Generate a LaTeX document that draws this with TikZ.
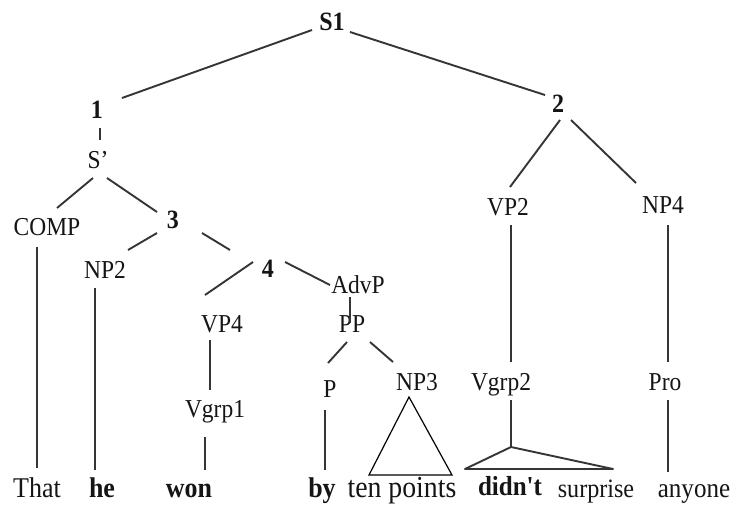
\documentclass[tikz,border=0pt]{standalone}
\usepackage{fontspec}
\setmainfont{Liberation Serif}
\newfontfamily\tfont[FakeStretch=0.91,Ligatures=TeXOff]{Liberation Serif}
\usetikzlibrary{calc}
\definecolor{linec}{HTML}{353535}
\definecolor{txt}{HTML}{151515}
\begin{document}
\begin{tikzpicture}[x=1pt,y=-1pt,
  lab/.style={anchor=base,inner sep=0pt,text=txt,font=\tfont\fontsize{25.8}{28}\selectfont},
  blab/.style={anchor=base,inner sep=0pt,text=txt,font=\tfont\bfseries\fontsize{26.4}{28}\selectfont},
  word/.style={anchor=base,inner sep=0pt,text=txt,font=\tfont\fontsize{28.6}{30}\selectfont},
  bword/.style={anchor=base,inner sep=0pt,text=txt,font=\tfont\bfseries\fontsize{28.5}{30}\selectfont},
  edge/.style={draw=linec,line width=1.9pt},
  thin/.style={draw=black,line width=1.2pt,line join=miter}]
\useasboundingbox[fill=white] (0,0) rectangle (736,504);
% labels
\node[blab] (S1) at (332,30) {S1};
\node[blab] (n1) at (97,118) {1};
\node[blab] (n2) at (558,112) {2};
\node[lab] (Sp) at (98,168) {S’};
\node[lab] (COMP) at (47,235) {COMP};
\node[blab] (n3) at (173,228) {3};
\node[lab] (NP2) at (105,278) {NP2};
\node[blab] (n4) at (268,277) {4};
\node[lab] (AdvP) at (358,293) {AdvP};
\node[lab] (VP4) at (222,332) {VP4};
\node[lab] (PP) at (352,332) {PP};
\node[lab] (P) at (330,397) {P};
\node[lab] (NP3) at (417,390) {NP3};
\node[lab] (Vgrp1) at (215,417) {Vgrp1};
\node[lab] (VP2) at (508,215) {VP2};
\node[lab] (NP4) at (663,213) {NP4};
\node[lab] (Vgrp2) at (501,390) {Vgrp2};
\node[lab] (Pro) at (665,390) {Pro};
% words
\node[word] (That) at (37,497) {That};
\node[bword] (he) at (102,497) {he};
\node[bword] (won) at (189,497) {won};
\node[bword] (by) at (322,497) {by};
\node[word,font=\tfont\fontsize{30.5}{30}\selectfont] (ten) at (402,497) {ten points};
\node[bword,font=\tfont\bfseries\fontsize{27.5}{30}\selectfont] (didnt) at (510,495) {didn't};
\node[word,font=\tfont\fontsize{26.5}{30}\selectfont] (surprise) at (596,497) {surprise};
\node[word,font=\tfont\fontsize{27.5}{30}\selectfont] (anyone) at (694,497) {anyone};
\coordinate (vapex) at (511,447);
% edges
\draw[edge] ($(S1.base)+(-20,0)$) -- ($(n1.base)+(25,-20)$);
\draw[edge] ($(S1.base)+(18,2)$) -- ($(n2.base)+(-13,-17)$);
\draw[edge] ($(n1.base)+(3,10)$) -- ($(Sp.base)+(2,-28)$);
\draw[edge] ($(Sp.base)+(-5,10)$) -- ($(COMP.base)+(10,-27)$);
\draw[edge] ($(Sp.base)+(9,10)$) -- ($(n3.base)+(-16,-16)$);
\draw[edge] ($(n3.base)+(-16,5)$) -- ($(NP2.base)+(23,-28)$);
\draw[edge] ($(n3.base)+(29,5)$) -- ($(n4.base)+(-38,-27)$);
\draw[edge] ($(n4.base)+(-15,-15)$) -- ($(VP4.base)+(-17,-37)$);
\draw[edge] ($(n4.base)+(17,-15)$) -- ($(AdvP.base)+(-28,-8)$);
\draw[edge] ($(AdvP.base)+(-8,4)$) -- ($(PP.base)+(-2,-9)$);
\draw[edge] ($(PP.base)+(-5,10)$) -- ($(P.base)+(-2,-34)$);
\draw[edge] ($(PP.base)+(18,10)$) -- ($(NP3.base)+(-24,-28)$);
\draw[edge] ($(COMP.base)+(-10,12)$) -- ($(That.base)+(0,-29)$);
\draw[edge] ($(NP2.base)+(-10,10)$) -- ($(he.base)+(-7,-27)$);
\draw[edge] ($(VP4.base)+(-12,8)$) -- ($(Vgrp1.base)+(-5,-27)$);
\draw[edge] ($(Vgrp1.base)+(-10,20)$) -- ($(won.base)+(16,-27)$);
\draw[edge] ($(P.base)+(-5,13)$) -- ($(by.base)+(3,-27)$);
\draw[thin] ($(NP3.base)+(-8,7)$) -- ($(ten.base)+(-33,-22)$) -- ($(ten.base)+(50,-22)$) -- cycle;
\draw[edge] ($(n2.base)+(2,8)$) -- ($(VP2.base)+(2,-28)$);
\draw[edge] ($(n2.base)+(13,8)$) -- ($(NP4.base)+(-27,-30)$);
\draw[edge] ($(VP2.base)+(3,10)$) -- ($(Vgrp2.base)+(10,-28)$);
\draw[edge] ($(Vgrp2.base)+(10,10)$) -- (vapex);
\draw[edge,line join=round] (vapex) -- ($(didnt.base)+(-45,-26)$) -- ($(surprise.base)+(17,-28)$) -- cycle;
\draw[edge] ($(NP4.base)+(5,12)$) -- ($(Pro.base)+(3,-28)$);
\draw[edge] ($(Pro.base)+(3,10)$) -- ($(anyone.base)+(-26,-25)$);
\end{tikzpicture}
\end{document}
